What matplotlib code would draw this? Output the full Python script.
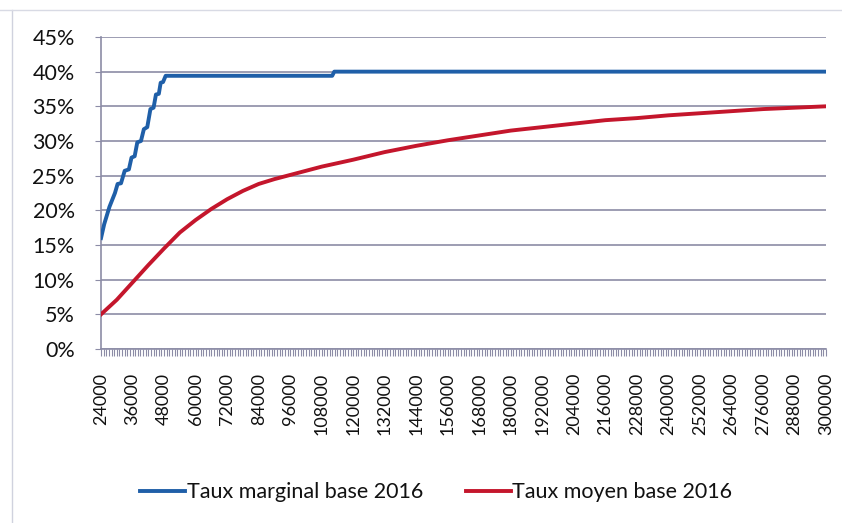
import matplotlib.pyplot as plt
from matplotlib.lines import Line2D
from matplotlib.ticker import MultipleLocator, FuncFormatter

# Taux marginal (en %)
revenu_marg = [24000, 25200, 27200, 29300, 30300, 31600, 33000, 34600, 35600, 36800,
               37800, 39200, 40300, 41600, 42800, 44000, 44900, 46000, 46700, 47600,
               48600, 112000, 112800, 300000]
taux_marg = [16.0, 18.0, 20.5, 22.5, 23.8, 23.9, 25.7, 25.9, 27.6, 27.8,
             29.8, 30.0, 31.7, 32.0, 34.6, 34.8, 36.7, 36.8, 38.4, 38.5,
             39.4, 39.4, 40.0, 40.0]

# Taux moyen (en %)
revenu_moy = [24000, 30000, 36000, 42000, 48000, 54000, 60000, 66000, 72000, 78000,
              84000, 90000, 96000, 102000, 108000, 114000, 120000, 132000, 144000,
              156000, 168000, 180000, 192000, 204000, 216000, 228000, 240000, 252000,
              264000, 276000, 288000, 300000]
taux_moy = [5.0, 7.1, 9.6, 12.1, 14.5, 16.8, 18.6, 20.2, 21.6, 22.8,
            23.8, 24.5, 25.1, 25.7, 26.3, 26.8, 27.3, 28.4, 29.3,
            30.1, 30.8, 31.5, 32.0, 32.5, 33.0, 33.3, 33.7, 34.0,
            34.3, 34.6, 34.8, 35.0]

x_labels = list(range(24000, 300001, 12000))

plt.rcParams['font.family'] = ['Lato', 'DejaVu Sans']

fig = plt.figure(figsize=(8.42, 5.23), dpi=100)
ax = fig.add_axes([0.120, 0.3327, 0.861, 0.5966])

grid_col = "#8c8ca6"
text_col = "#111111"
ax.plot(revenu_marg, taux_marg, color="#1f5fa8", linewidth=2.8,
        label="Taux marginal base 2016", zorder=3)
ax.plot(revenu_moy, taux_moy, color="#c4162c", linewidth=2.8,
        label="Taux moyen base 2016", zorder=3)

ax.set_xlim(24000, 300000)
ax.set_ylim(0, 45)
ax.set_yticks(range(0, 46, 5))
ax.yaxis.set_major_formatter(FuncFormatter(lambda v, p: f"{v:.0f}%"))
ax.set_xticks(x_labels)
ax.set_xticklabels([str(v) for v in x_labels], rotation=90)
ax.xaxis.set_minor_locator(MultipleLocator(1000))

ax.grid(axis="y", color=grid_col, linewidth=1.2)
ax.set_axisbelow(True)
for s in ["top", "right"]:
    ax.spines[s].set_visible(False)
for s in ["left", "bottom"]:
    ax.spines[s].set_color(grid_col)
    ax.spines[s].set_linewidth(1.2)

ax.tick_params(axis="y", length=4, color=grid_col, labelsize=15.5, pad=15, labelcolor=text_col)
ax.tick_params(axis="x", which="both", length=5, color=grid_col, width=0.8,
               labelsize=13, pad=12, labelcolor=text_col)

fig.legend(loc="center", bbox_to_anchor=(0.518, 0.059), ncol=2, frameon=False,
           fontsize=15.5, handlelength=2.1, handletextpad=0.05, columnspacing=2.0,
           labelcolor=text_col)

# bordure pâle du scan
fig.add_artist(Line2D([12/842, 12/842], [0, 1 - 10/523], color="#d0d2de", linewidth=1))
fig.add_artist(Line2D([0, 1], [1 - 10/523, 1 - 10/523], color="#d8dae4", linewidth=1))

fig.savefig("out.png", dpi=100)
